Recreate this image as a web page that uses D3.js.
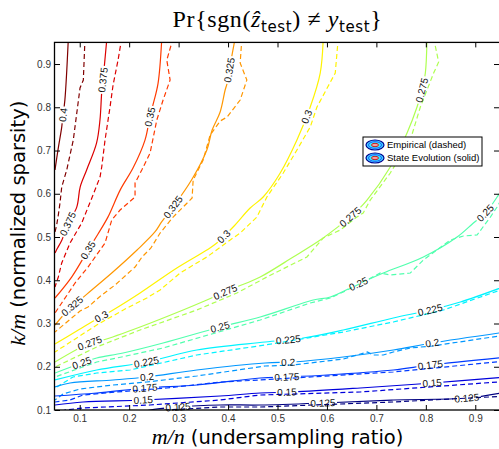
<!DOCTYPE html>
<html>
<head>
<meta charset="utf-8">
<script src="https://cdn.jsdelivr.net/npm/d3@7"></script>
<style>
  body { margin: 0; background: #fff; }
</style>
</head>
<body>
<div id="chart"></div>
<script>
// contour levels of Pr{sgn(z_test) != y_test}
const levels = [0.125, 0.15, 0.175, 0.2, 0.225, 0.25, 0.275, 0.3, 0.325, 0.35, 0.375, 0.4];
const xTicks = [0.1, 0.2, 0.3, 0.4, 0.5, 0.6, 0.7, 0.8, 0.9];
const yTicks = [0.1, 0.2, 0.3, 0.4, 0.5, 0.6, 0.7, 0.8, 0.9];

// state evolution (solid) contours, one per level, points are [m/n, k/m]
const stateEvolution = [
  [[0.96,0.141],[0.8834,0.1277],[0.7342,0.1231],[0.5925,0.1162],[0.465,0.1116],[0.384,0.1116],[0.299,0.1069],[0.2423,0.1],[0.222,0.093]],
  [[0.96,0.176],[0.8126,0.1624],[0.6674,0.1509],[0.5318,0.1416],[0.465,0.1393],[0.384,0.1324],[0.2281,0.1231],[0.1067,0.1185],[0.05,0.1116]],
  [[0.96,0.222],[0.8091,0.204],[0.7342,0.1925],[0.6,0.1809],[0.519,0.1763],[0.465,0.174],[0.3368,0.1578],[0.2356,0.1509],[0.1344,0.1393],[0.05,0.1324]],
  [[0.96,0.28],[0.8126,0.2549],[0.7342,0.2387],[0.633,0.2225],[0.5318,0.211],[0.4751,0.2087],[0.3368,0.1925],[0.2356,0.1763],[0.1674,0.1694],[0.0804,0.1624],[0.05,0.1532]],
  [[0.96,0.386],[0.8698,0.3497],[0.8091,0.3312],[0.7342,0.3127],[0.633,0.285],[0.552,0.2665],[0.4751,0.2572],[0.3368,0.2387],[0.2356,0.211],[0.1344,0.1925],[0.05,0.1694]],
  [[0.96,0.622],[0.9441,0.5925],[0.9204,0.5555],[0.8962,0.5324],[0.8632,0.5],[0.795,0.4538],[0.714,0.4168],[0.6634,0.3913],[0.6069,0.3613],[0.5722,0.3543],[0.465,0.315],[0.384,0.2919],[0.2686,0.2549],[0.1877,0.2318],[0.1344,0.2202],[0.104,0.2087],[0.05,0.1855]],
  [[0.8024,0.96],[0.799,0.8792],[0.7923,0.8399],[0.7822,0.8006],[0.762,0.7405],[0.7281,0.6618],[0.681,0.5855],[0.6472,0.5462],[0.627,0.5277],[0.5864,0.4931],[0.5318,0.4538],[0.465,0.4075],[0.4178,0.3844],[0.3941,0.3728],[0.3571,0.3543],[0.3091,0.3312],[0.2221,0.2919],[0.1472,0.2618],[0.1209,0.2549],[0.05,0.211]],
  [[0.5925,0.96],[0.5864,0.8792],[0.5662,0.8006],[0.5393,0.7243],[0.5055,0.648],[0.471,0.5925],[0.4447,0.567],[0.4103,0.5231],[0.3773,0.4861],[0.3571,0.47],[0.2964,0.4283],[0.2221,0.3705],[0.1674,0.3312],[0.1209,0.3012],[0.0939,0.2827],[0.05,0.2526]],
  [[0.4144,0.96],[0.4043,0.8977],[0.3982,0.856],[0.3941,0.8399],[0.384,0.789],[0.3678,0.7474],[0.3571,0.7012],[0.3273,0.6341],[0.2889,0.5694],[0.266,0.5354],[0.2525,0.5122],[0.216,0.47],[0.1648,0.4168],[0.1243,0.3775],[0.1006,0.3543],[0.0804,0.3358],[0.05,0.2965]],
  [[0.266,0.96],[0.2585,0.856],[0.248,0.805],[0.242,0.778],[0.232,0.724],[0.208,0.66],[0.182,0.609],[0.157,0.546],[0.137,0.507],[0.117,0.47],[0.084,0.408],[0.05,0.359]],
  [[0.155,0.96],[0.149,0.886],[0.1445,0.835],[0.141,0.771],[0.134,0.717],[0.114,0.655],[0.101,0.616],[0.094,0.569],[0.076,0.53],[0.064,0.493],[0.053,0.47],[0.05,0.463]],
  [[0.077,0.96],[0.07,0.817],[0.065,0.77],[0.0636,0.754],[0.056,0.701],[0.05,0.655]]
];

// empirical (dashed) contours, same order as levels
const empirical = [
  [[0.96,0.132],[0.7342,0.1185],[0.465,0.1069],[0.384,0.1069],[0.2761,0.1],[0.25,0.095]],
  [[0.96,0.166],[0.6674,0.1416],[0.465,0.1347],[0.384,0.1231],[0.2423,0.1116],[0.1067,0.1046],[0.0702,0.1],[0.06,0.095]],
  [[0.96,0.213],[0.7342,0.1879],[0.465,0.1694],[0.384,0.1647],[0.2761,0.1509],[0.1749,0.1416],[0.1067,0.1347],[0.0804,0.1231],[0.05,0.1185]],
  [[0.96,0.273],[0.8126,0.248],[0.7686,0.2434],[0.7342,0.2341],[0.714,0.2272],[0.6937,0.2272],[0.6816,0.2341],[0.633,0.2179],[0.5318,0.204],[0.4751,0.2017],[0.3368,0.1786],[0.2356,0.1647],[0.1674,0.1578],[0.1006,0.1486],[0.0662,0.137],[0.05,0.1231]],
  [[0.96,0.381],[0.8354,0.3312],[0.7342,0.3035],[0.633,0.2803],[0.4751,0.2503],[0.3368,0.2272],[0.2018,0.1925],[0.1344,0.1855],[0.0864,0.1763],[0.0534,0.1532],[0.05,0.1486]],
  [[0.96,0.602],[0.9441,0.5694],[0.9305,0.5462],[0.9036,0.5046],[0.8759,0.5023],[0.8496,0.4931],[0.7949,0.4468],[0.7686,0.4168],[0.7281,0.4121],[0.7079,0.4168],[0.681,0.4006],[0.633,0.3728],[0.6067,0.359],[0.5662,0.3474],[0.465,0.3081],[0.2686,0.2434],[0.1749,0.2202],[0.1344,0.211],[0.05,0.1763]],
  [[0.8158,0.96],[0.8259,0.9046],[0.8158,0.8792],[0.7889,0.8006],[0.7686,0.7243],[0.7281,0.648],[0.6876,0.5855],[0.6733,0.5555],[0.6607,0.5462],[0.627,0.5162],[0.5925,0.4977],[0.5595,0.4538],[0.4785,0.4075],[0.4178,0.3705],[0.3368,0.3312],[0.2221,0.285],[0.1344,0.2457],[0.05,0.1994]],
  [[0.6229,0.96],[0.6168,0.8792],[0.5798,0.8006],[0.5662,0.7543],[0.5393,0.7012],[0.5116,0.648],[0.4785,0.5925],[0.4583,0.5462],[0.4245,0.5092],[0.4043,0.4931],[0.3571,0.4538],[0.3031,0.4168],[0.2626,0.3775],[0.2356,0.359],[0.1917,0.3335],[0.1344,0.2965],[0.05,0.2341]],
  [[0.428,0.96],[0.4245,0.9023],[0.438,0.863],[0.4245,0.8168],[0.3982,0.7775],[0.384,0.7682],[0.3638,0.7358],[0.3496,0.678],[0.3294,0.6318],[0.3273,0.5902],[0.2889,0.5462],[0.2626,0.5092],[0.244,0.4746],[0.226,0.4538],[0.2119,0.4306],[0.1715,0.389],[0.1445,0.3659],[0.1168,0.3381],[0.1006,0.3289],[0.05,0.2803]],
  [[0.2889,0.96],[0.2761,0.909],[0.2828,0.863],[0.2686,0.8168],[0.2559,0.7705],[0.2423,0.6942],[0.2255,0.6549],[0.2119,0.6249],[0.2119,0.5925],[0.1816,0.5624],[0.1648,0.5393],[0.1512,0.4861],[0.1168,0.4306],[0.0905,0.3936],[0.0636,0.3474],[0.05,0.3243]],
  [[0.185,0.96],[0.1775,0.909],[0.1674,0.851],[0.1613,0.8006],[0.1512,0.7243],[0.1445,0.6618],[0.1411,0.6387],[0.1269,0.5971],[0.104,0.5324],[0.0804,0.4861],[0.0636,0.4399],[0.0567,0.4075],[0.05,0.3844]],
  [[0.1107,0.96],[0.1073,0.863],[0.1006,0.8445],[0.087,0.7243],[0.0737,0.6549],[0.0636,0.6156],[0.0601,0.5786],[0.0567,0.5509],[0.0534,0.5277],[0.05,0.5116]]
];

// where the inline labels sit on the solid lines: [level, m/n, k/m]
const labelAt = [
  [0.4, 0.0662, 0.782],
  [0.375, 0.1472, 0.863], [0.375, 0.0763, 0.530],
  [0.35, 0.2423, 0.7775], [0.35, 0.1168, 0.47],
  [0.325, 0.4043, 0.886], [0.325, 0.2889, 0.5694], [0.325, 0.0864, 0.338],
  [0.3, 0.5601, 0.7775], [0.3, 0.3941, 0.4977], [0.3, 0.1445, 0.315],
  [0.275, 0.7923, 0.84], [0.275, 0.6472, 0.5462], [0.275, 0.3941, 0.3751], [0.275, 0.1209, 0.2549],
  [0.25, 0.9204, 0.5555], [0.25, 0.6634, 0.3913], [0.25, 0.384, 0.2919], [0.25, 0.104, 0.2087],
  [0.225, 0.8091, 0.3312], [0.225, 0.5217, 0.2665], [0.225, 0.2356, 0.2087],
  [0.2, 0.8126, 0.2549], [0.2, 0.5217, 0.211], [0.2, 0.2356, 0.1763],
  [0.175, 0.8091, 0.204], [0.175, 0.519, 0.1763], [0.175, 0.2322, 0.1509],
  [0.15, 0.8126, 0.1624], [0.15, 0.519, 0.1416], [0.15, 0.2281, 0.1231],
  [0.125, 0.8834, 0.1277], [0.125, 0.5925, 0.1162], [0.125, 0.299, 0.1069]
];

const legendItems = ["Empirical (dashed)", "State Evolution (solid)"];

const W = 499, H = 449;
const margin = {top: 42.4, right: 0, bottom: 39, left: 55};

const svg = d3.select("#chart").append("svg")
  .attr("width", W).attr("height", H)
  .style("font-family", "'Liberation Sans', Arial, sans-serif");

const x = d3.scaleLinear().domain([0.05, 0.95]).range([margin.left, 500]);
const y = d3.scaleLinear().domain([0.1, 0.95]).range([H - margin.bottom, margin.top]);

// MATLAB jet colormap
function jet(t) {
  const c = v => Math.max(0, Math.min(1, v));
  const r = c(1.5 - Math.abs(4 * t - 3));
  const g = c(1.5 - Math.abs(4 * t - 2));
  const b = c(1.5 - Math.abs(4 * t - 1));
  return d3.rgb(r * 255, g * 255, b * 255).formatHex();
}
const color = d3.scaleSequential(jet).domain(d3.extent(levels));

const defs = svg.append("defs");
defs.append("clipPath").attr("id", "plotClip")
  .append("rect")
  .attr("x", x(0.05)).attr("y", y(0.95))
  .attr("width", x(0.95) - x(0.05)).attr("height", y(0.1) - y(0.95));

const plot = svg.append("g").attr("clip-path", "url(#plotClip)");

const solidLine = d3.line().x(d => x(d[0])).y(d => y(d[1])).curve(d3.curveCatmullRom.alpha(0.5));
const dashLine = d3.line().x(d => x(d[0])).y(d => y(d[1]));

// dashed empirical contours
plot.append("g").selectAll("path")
  .data(empirical)
  .join("path")
  .attr("d", dashLine)
  .attr("fill", "none")
  .attr("stroke", (d, i) => color(levels[i]))
  .attr("stroke-width", 1.2)
  .attr("stroke-dasharray", "5,3");

// solid state evolution contours
const solids = plot.append("g").selectAll("path")
  .data(stateEvolution)
  .join("path")
  .attr("d", solidLine)
  .attr("fill", "none")
  .attr("stroke", (d, i) => color(levels[i]))
  .attr("stroke-width", 1.2);

function snap(node, px, py) {
  const L = node.getTotalLength();
  let best = 0, bd = Infinity;
  for (let l = 0; l <= L; l += 0.5) {
    const p = node.getPointAtLength(l);
    const d = (p.x - px) ** 2 + (p.y - py) ** 2;
    if (d < bd) { bd = d; best = l; }
  }
  const p = node.getPointAtLength(best);
  const a = node.getPointAtLength(Math.max(0, best - 5));
  const b = node.getPointAtLength(Math.min(L, best + 5));
  let ang = Math.atan2(b.y - a.y, b.x - a.x) * 180 / Math.PI;
  if (ang > 90) ang -= 180;
  if (ang < -90) ang += 180;
  return {x: p.x, y: p.y, ang};
}

// labels on the solid lines, with a gap cut out of the line
const labelG = svg.append("g");
solids.each(function(d, i) {
  const lev = levels[i];
  const spots = labelAt.filter(s => s[0] === lev);
  const mask = defs.append("mask").attr("id", "gap" + i)
    .attr("maskUnits", "userSpaceOnUse")
    .attr("x", 0).attr("y", 0).attr("width", W).attr("height", H);
  mask.append("rect").attr("width", W).attr("height", H).attr("fill", "#fff");
  spots.forEach(s => {
    const p = snap(this, x(s[1]), y(s[2]));
    const t = labelG.append("text")
      .attr("transform", `translate(${p.x},${p.y}) rotate(${p.ang})`)
      .attr("text-anchor", "middle")
      .attr("dy", "0.35em")
      .attr("font-size", 10)
      .attr("fill", "#111")
      .text(String(lev));
    const w = t.node().getComputedTextLength();
    mask.append("rect")
      .attr("transform", `translate(${p.x},${p.y}) rotate(${p.ang})`)
      .attr("x", -w / 2 - 1.5).attr("y", -4)
      .attr("width", w + 3).attr("height", 8)
      .attr("fill", "#000");
  });
  d3.select(this).attr("mask", `url(#gap${i})`);
});

// axes with inward ticks on all four sides
const axisG = svg.append("g").attr("font-size", 9.5);
axisG.append("g")
  .attr("transform", `translate(0,${y(0.1)})`)
  .call(d3.axisBottom(x).tickValues(xTicks).tickSize(-5).tickPadding(5).tickFormat(d3.format(".1f")));
axisG.append("g")
  .attr("transform", `translate(0,${y(0.95)})`)
  .call(d3.axisTop(x).tickValues(xTicks).tickSize(-5).tickFormat(""));
axisG.append("g")
  .attr("transform", `translate(${x(0.05)},0)`)
  .call(d3.axisLeft(y).tickValues(yTicks).tickSize(-5).tickPadding(4).tickFormat(d3.format(".1f")));
axisG.append("g")
  .attr("transform", `translate(${x(0.95) - 1},0)`)
  .call(d3.axisRight(y).tickValues(yTicks).tickSize(-5).tickFormat(""));
axisG.selectAll(".domain").remove();
axisG.selectAll(".tick line").attr("stroke", "#000").attr("stroke-width", 1);
axisG.selectAll(".tick text").attr("fill", "#333").attr("font-family", "'Liberation Sans', Arial, sans-serif");

svg.append("rect")
  .attr("x", x(0.05) - 0.5).attr("y", y(0.95))
  .attr("width", x(0.95) - x(0.05) + 2).attr("height", y(0.1) - y(0.95))
  .attr("fill", "none").attr("stroke", "#000").attr("stroke-width", 1.3);

// legend
const lg = svg.append("g").attr("transform", "translate(363,137)");
lg.append("rect").attr("width", 119).attr("height", 29)
  .attr("fill", "#fff").attr("stroke", "#000").attr("stroke-width", 1);
legendItems.forEach((txt, i) => {
  const row = lg.append("g").attr("transform", `translate(12,${8 + i * 13})`);
  row.append("ellipse").attr("rx", 9).attr("ry", 5).attr("fill", "#40d8ff").attr("stroke", "#00008f").attr("stroke-width", 1.2);
  row.append("ellipse").attr("rx", 6.5).attr("ry", 3.3).attr("fill", "#30f0ff").attr("stroke", "#2050ff").attr("stroke-width", 1);
  row.append("ellipse").attr("rx", 3.5).attr("ry", 1.7).attr("fill", "#f4a0a0").attr("stroke", "#c02020").attr("stroke-width", 1);
  row.append("text").attr("x", 12).attr("dy", "0.35em").attr("font-size", 9.5).attr("fill", "#000").text(txt);
});

// title
const title = svg.append("text")
  .attr("x", (x(0.05) + x(0.95)) / 2).attr("y", 27)
  .attr("text-anchor", "middle")
  .attr("font-family", "'Liberation Serif', 'DejaVu Serif', serif")
  .attr("font-size", 24).attr("letter-spacing", 0.6).attr("fill", "#000");
title.append("tspan").text("Pr{sgn(");
title.append("tspan").attr("font-style", "italic").text("ẑ");
title.append("tspan").attr("font-family", "'DejaVu Sans', sans-serif").attr("font-size", 15).attr("dy", 5).text("test");
title.append("tspan").attr("dy", -5).text(") \u2260 ");
title.append("tspan").attr("font-style", "italic").text("y");
title.append("tspan").attr("font-family", "'DejaVu Sans', sans-serif").attr("font-size", 15).attr("dy", 5).text("test");
title.append("tspan").attr("dy", -5).text("}");

// axis labels
const xl = svg.append("text")
  .attr("x", (x(0.05) + x(0.95)) / 2).attr("y", 444)
  .attr("text-anchor", "middle").attr("font-size", 19.5)
  .attr("font-family", "'DejaVu Sans', sans-serif").attr("fill", "#000");
xl.append("tspan").attr("font-family", "'Liberation Serif', serif").attr("font-style", "italic").attr("font-size", 22).text("m/n");
xl.append("tspan").text(" (undersampling ratio)");

const yl = svg.append("text")
  .attr("transform", `translate(25,${(y(0.1) + y(0.95)) / 2 - 3}) rotate(-90)`)
  .attr("text-anchor", "middle").attr("font-size", 19.5)
  .attr("font-family", "'DejaVu Sans', sans-serif").attr("fill", "#000");
yl.append("tspan").attr("font-family", "'Liberation Serif', serif").attr("font-style", "italic").attr("font-size", 22).text("k/m");
yl.append("tspan").text(" (normalized sparsity)");
</script>
</body>
</html>
